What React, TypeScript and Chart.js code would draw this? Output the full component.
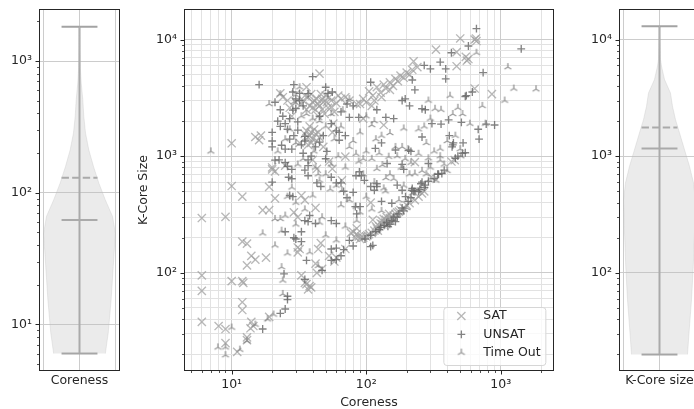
import React, { useEffect, useRef } from 'react';
import { Chart, registerables } from 'chart.js';
Chart.register(...registerables);

const FONT = '"DejaVu Sans", sans-serif';
const TEXT = '#262626';
const GRID_MAJOR = '#cccccc';
const GRID_MINOR = '#e2e2e2';
const STAT = '#a3a3a3';

// axis ranges (shared between panels)
const corenessRange = [4.5, 2440];
const coreSizeRange = [14.7, 17900];
const corenessMajors = [10, 100, 1000];
const corenessTickLabels = ['10¹', '10²', '10³'];
const coreSizeMajors = [100, 1000, 10000];
const coreSizeTickLabels = ['10²', '10³', '10⁴'];

// violin: coreness (value, half width)
const coreViolinValues = [6, 8.6, 15.3, 27.5, 49, 66, 88, 118, 158, 211, 283, 379, 507, 679, 900, 1820];
const coreViolinWidths = [0.36, 0.4, 0.44, 0.47, 0.5, 0.46, 0.36, 0.27, 0.195, 0.13, 0.084, 0.06, 0.046, 0.024, 0.011, 0];
const coreMin = 6, coreMax = 1820, coreMedian = 62, coreMean = 130;

// violin: k-core size
const sizeViolinValues = [20, 30, 59, 113, 219, 423, 589, 818, 1064, 1580, 2056, 2673, 3477, 4538, 5900, 6730, 13000];
const sizeViolinWidths = [0.39, 0.41, 0.446, 0.47, 0.487, 0.5, 0.474, 0.418, 0.362, 0.279, 0.223, 0.181, 0.153, 0.07, 0.028, 0.014, 0];
const sizeMin = 20, sizeMax = 13000, sizeMedian = 1165, sizeMean = 1760;

// scatter series: [coreness, k-core size]
const satPoints = [
  [6,295],[6,95],[6,70],[6,38],[9,302],[10,555],[10,1290],[10,85],[12,85],[12.2,82],[12,56],[12,48],[8,35],[9,33],[9,25],[11,21],
  [13,28],[13,26.5],[14,38],[14.5,35],[13.8,33.5],[19,42],[12,185],[13,178],[13,116],[14,140],[15,130],[18,135],[12,450],
  [15,1460],[16,1370],[16.5,1500],[17,345],[19,345],[19,545],[20,770],[21,435],[21,740],[20,800],
  [29,330],[31,300],[42,360],[31,165],[32,160],[31,150],[33,95],[35,82],[38,77],[39,75],[37,72],[36,80],[42,120],[43,100],
  [47,108],[46,180],[44,160],[53,140],[58,125],[60,135],[77,220],[88,205],[85,240],[83,200],
  [23,3450],[45,5100],[36,3900],[37,3200],[40,2900],[43,3100],[45,2700],[48,2900],[50,3300],[52,2600],[55,3000],[42,2500],
  [38,2700],[46,3400],[60,2850],[65,3100],[58,2400],[33,2800],[35,3300],[44,2200],[49,2300],[36,1650],[38,1500],[40,1400],
  [42,1550],[39,1300],[37,1450],[41,1700],[38,1800],[56,1600],[57,1900],[70,990],[66,620],[40,930],[43,780],[25,830],
  [33,460],[35,420],[53,900],[56,780],[75,3000],[85,2800],[95,2100],[24,3200],[27,2600],[30,3400],[70,3200],
  [39,3400],[41,3000],[44,2800],[47,3100],[51,2900],[53,3200],[47,2500],[40,2600],[34,3000],[36,2500],[55,2650],[62,3300],
  [44,1600],[39,1600],[43,1350],[37,1250],[35,1550],[45,1450],[48,1200],[32,1300],[30,2900],[26,3000],[28,2200],
  [90,2800],[95,3100],[100,2900],[105,3600],[112,3300],[115,3000],[120,3900],[128,3500],[130,3200],[135,4100],[140,3800],
  [150,4300],[150,3700],[158,4000],[165,4600],[172,4400],[180,4900],[190,4700],[200,5200],[210,5000],[220,5500],[225,6500],
  [240,5800],[135,1850],[110,2700],
  [330,8200],[470,7800],[500,10200],[640,10000],[660,9700],[655,10200],[550,7100],[575,6800],[560,6600],[470,5900],
  [640,3800],[860,3400],[455,925],[430,900],[305,665],[230,890],
  [90,195],[95,200],[100,205],[105,215],[110,220],[115,230],[120,240],[125,250],[132,260],[138,270],[140,285],[145,265],
  [150,295],[155,300],[160,310],[170,330],[180,345],[200,380],[85,215],[80,225],[230,420],[260,480],[130,280],[148,320],
  [108,400],[112,285],[70,160],
  [118,250],[128,265],[135,290],[142,300],[152,280],[122,230],[102,210],[92,205],[165,320],[175,335],[190,360],[210,395],
  [245,450],[270,500]
];

const unsatPoints = [
  [660,12400],[575,8800],[1420,8300],[430,7700],[740,5200],[390,5600],[355,6400],[300,5600],[270,6000],[390,4600],
  [545,3250],[555,3300],[615,3550],[900,1850],[780,1880],[680,1700],[690,1400],[510,1950],[410,2050],[360,1880],[308,1900],
  [415,1500],[440,1250],[445,1300],[435,1200],[525,1300],[520,1060],[545,1070],[365,710],[345,700],[275,565],[255,580],
  [218,510],[225,500],
  [220,4500],[230,3700],[195,3100],[185,3000],[210,2700],[260,2550],[275,2500],[160,2100],[140,2150],[120,2500],[108,4300],
  [117,1165],[143,865],[130,1300],[260,1460],[207,1125],[215,1100],[165,1130],[185,850],[190,770],[290,865],[260,600],
  [245,500],[170,565],[220,530],[185,510],[120,580],[115,510],
  [17,33],[23,45],[25,49],[26,59],[26,63],[24.5,98],[25,225],[29,200],[30,195],[33,185],[33,225],[38,310],[35,280],[37,275],
  [42,265],[36,128],[35,88],[47,105],[55,128],[60,130],[65,140],[55,160],[60,163],[68,158],[75,190],[60,265],[55,280],
  [83,370],[90,370],[85,320],[80,170],
  [16,4100],[40,4800],[29,4100],[28.5,3550],[32,3450],[32,3000],[37,3440],[50,3900],[56,3550],[52,3450],[21,2900],[23,2500],
  [28.5,2480],[30,2560],[25,1900],[23,1800],[27,2100],[31,1970],[31,1670],[20,1600],[20,1350],[20,1200],[23.5,1240],[27,1400],
  [28,1150],[25,1150],[34,1060],[39,1000],[37,930],[35,1480],[35,1350],[45,1320],[51,1100],[50,950],[60,1650],[63,1600],
  [63,1370],[72,2800],[80,2700],[75,2150],[88,2150],[21,925],[22.5,930],[25,880],[26,820],[28,770],[20,600],[26.5,660],
  [28,640],[28.5,450],[35,760],[37,830],[37,680],[43,590],[46,550],[55,660],[60,590],[65,590],[68,500],[80,490],[72,440],
  [84,680],[92,680],[27,460],
  [30,3100],[34,2700],[24,2200],[22,2000],[26,1700],[29,1500],[33,1250],[42,1200],[48,1500],[55,1900],[65,2400],[70,1500],[45,2200],
  [89,735],[97,620],[108,550],[130,410],[155,395],[120,550],
  [98,195],[108,210],[118,225],[128,245],[136,255],[142,270],[150,260],[155,280],[160,300],[165,275],[175,320],[185,360],
  [196,450],[205,410],[215,440],[230,500],[108,168],[112,172],
  [250,520],[270,540],[290,610],[320,640],[340,700],[380,760],[460,960],[480,1000],[125,235],[145,250],[170,300],[190,340]
];

const timeoutPoints = [
  [7,1100],[7.9,23],[9,23],[10,34],[9,19.7],[11.5,22],[13,26],[15,36],[20.5,44],[18.5,40],[24,66],[24,86],[23.5,112],[21,172],
  [17,218],[21,290],[23.5,230],[26,147],[38,150],[44,115],[45,270],[47,300],[25,310],[23,290],
  [23,3400],[32,3900],[41,1100],[34,950],[42,800],[19,2800],[60,560],[66,510],[84,1050],[95,950],[28,540],[80,1350],[26,450],
  [54,520],[30,400],
  [660,7700],[1130,5800],[1250,3800],[1830,3750],[1070,3000],[730,2700],[770,1900],[590,1900],
  [190,1730],[245,1700],[270,1800],[325,2550],[360,2500],[110,1850],[130,1500],[150,1580],[118,1400],[147,990],[165,1200],
  [185,1200],[205,1150],[245,1050],[355,1160],[355,1000],[355,920],[500,1150],[505,1000],[132,840],[182,800],[125,1060],
  [215,880],[290,960],[230,710],[135,530],[115,600],[160,640],
  [84,370],[130,340],[139,500],[145,275],[160,290],[200,360],[220,480],[240,500],
  [75,3100],[67,2480],[100,2200],[290,3000],[420,3300],[480,2600],[440,2300],[400,750],[330,620],[280,700],
  [50,700],[55,850],[62,1000],[70,800],[75,1200],[88,900],[95,700],[100,1100],[110,950],[120,780],[140,650],[150,700],
  [170,1000],[195,950],[210,700],[260,750],[300,800],[320,1100],[380,850],[100,450],[90,330],[75,420],[65,380],[110,350],
  [175,420],[190,560],[45,620],[40,460],[35,350],[30,260],[50,210],[70,250],[60,190],[85,280],[30,1300],[27,1700],[33,2200],
  [45,2000],[55,2300],[65,1800],[90,1600],[115,2000],[400,1350],[460,1500],[280,1300],[300,2100],[520,2300],
  [29,2900],[36,2300],[40,2100],[50,1800],[58,1400],[25,1400],[22,1100],[31,850],[44,700]
];

const SAT_COLOR = 'rgba(160,160,160,0.75)';
const UNSAT_COLOR = 'rgba(100,100,100,0.8)';
const TO_COLOR = 'rgba(125,125,125,0.78)';
const MARKER_LW = 1.35;

function logTicks(min: number, max: number) {
  const out: any[] = [];
  for (let e = Math.floor(Math.log10(min)); e <= Math.ceil(Math.log10(max)); e++) {
    for (let m = 1; m <= 9; m++) {
      const v = m * Math.pow(10, e);
      if (v >= min && v <= max) out.push({ value: v, major: m === 1 });
    }
  }
  return out;
}

function majorLabel(majors: number[], labels: string[]) {
  return (value: any) => {
    const i = majors.findIndex((m) => Math.abs(m - value) / m < 1e-6);
    return i >= 0 ? labels[i] : '';
  };
}

const framePlugin = {
  id: 'frame',
  afterDraw(chart: any) {
    const { ctx, chartArea: a } = chart;
    ctx.save();
    ctx.strokeStyle = TEXT;
    ctx.lineWidth = 1;
    ctx.strokeRect(Math.round(a.left) - 0.5, Math.round(a.top) - 0.5, Math.round(a.right - a.left) + 1, Math.round(a.bottom - a.top) + 1);
    ctx.restore();
  },
};

function tickMarks(axes: string[]) {
  return {
    id: 'tickMarks',
    afterDraw(chart: any) {
      const { ctx, chartArea: a } = chart;
      ctx.save();
      ctx.strokeStyle = TEXT;
      axes.forEach((id) => {
        const s = chart.scales[id];
        s.ticks.forEach((t: any) => {
          const p = s.getPixelForValue(t.value);
          const len = t.major ? 4 : 2.5;
          ctx.lineWidth = t.major ? 1 : 0.8;
          ctx.beginPath();
          if (s.axis === 'y') {
            const y = Math.round(p) + 0.5;
            ctx.moveTo(a.left - 0.5, y);
            ctx.lineTo(a.left - 0.5 - len, y);
          } else {
            const x = Math.round(p) + 0.5;
            ctx.moveTo(x, a.bottom + 0.5);
            ctx.lineTo(x, a.bottom + 0.5 + len);
          }
          ctx.stroke();
        });
      });
      ctx.restore();
    },
  };
}

function drawMarker(ctx: any, kind: any, x: number, y: number, color: string) {
  ctx.save();
  ctx.strokeStyle = color;
  ctx.lineWidth = MARKER_LW;
  ctx.beginPath();
  if (kind === 'crossRot') {
    const d = 5.8 * Math.SQRT1_2;
    ctx.moveTo(x - d, y - d); ctx.lineTo(x + d, y + d);
    ctx.moveTo(x - d, y + d); ctx.lineTo(x + d, y - d);
    ctx.stroke();
  } else if (kind === 'cross') {
    const r = 3.9;
    ctx.moveTo(x - r, y); ctx.lineTo(x + r, y);
    ctx.moveTo(x, y - r); ctx.lineTo(x, y + r);
    ctx.stroke();
  } else {
    ctx.drawImage(kind, x - kind.width / 2, y - kind.height / 2);
  }
  ctx.restore();
}

const legendPlugin = {
  id: 'boxLegend',
  afterDatasetsDraw(chart: any) {
    const { ctx, chartArea: a } = chart;
    const w = 102, h = 58;
    const x0 = a.right - 7 - w, y0 = a.bottom - 4.5 - h;
    ctx.save();
    ctx.beginPath();
    const r = 3;
    ctx.moveTo(x0 + r, y0);
    ctx.lineTo(x0 + w - r, y0); ctx.arcTo(x0 + w, y0, x0 + w, y0 + r, r);
    ctx.lineTo(x0 + w, y0 + h - r); ctx.arcTo(x0 + w, y0 + h, x0 + w - r, y0 + h, r);
    ctx.lineTo(x0 + r, y0 + h); ctx.arcTo(x0, y0 + h, x0, y0 + h - r, r);
    ctx.lineTo(x0, y0 + r); ctx.arcTo(x0, y0, x0 + r, y0, r);
    ctx.closePath();
    ctx.fillStyle = 'rgba(255,255,255,0.8)';
    ctx.fill();
    ctx.strokeStyle = '#d6d6d6';
    ctx.lineWidth = 1;
    ctx.stroke();
    chart.data.datasets.forEach((ds: any, i: number) => {
      const cy = y0 + 8.5 + i * 18.3;
      drawMarker(ctx, ds.pointStyle, x0 + 17.5, cy, ds.pointBorderColor);
      ctx.fillStyle = TEXT;
      ctx.font = '12.5px ' + FONT;
      ctx.textBaseline = 'middle';
      ctx.textAlign = 'left';
      ctx.fillText(ds.label, x0 + 39.5, cy);
    });
    ctx.restore();
  },
};

function violinPolygon(values: number[], widths: number[]) {
  const left = values.map((v, i) => ({ x: 1 - widths[i], y: v }));
  const right = values.map((v, i) => ({ x: 1 + widths[i], y: v })).reverse();
  return [...left, ...right];
}

function statLine(x0: number, x1: number, y0: number, y1: number, dash?: number[]) {
  return {
    data: [{ x: x0, y: y0 }, { x: x1, y: y1 }],
    borderColor: STAT,
    borderWidth: 2,
    borderDash: dash || [],
    pointRadius: 0,
    fill: false,
  };
}

function violinConfig(label: string, range: number[], majors: number[], labels: string[], values: number[], widths: number[], mn: number, mx: number, med: number, mean: number) {
  return {
    type: 'line',
    data: {
      datasets: [
        {
          data: violinPolygon(values, widths),
          fill: 'shape',
          backgroundColor: 'rgba(190,190,190,0.3)',
          borderColor: 'rgba(190,190,190,0.3)',
          borderWidth: 1,
          pointRadius: 0,
          tension: 0,
        },
        statLine(1, 1, mn, mx),
        statLine(0.75, 1.25, mn, mn),
        statLine(0.75, 1.25, mx, mx),
        statLine(0.75, 1.25, med, med),
        statLine(0.75, 1.25, mean, mean, [7.4, 3.2]),
      ],
    },
    options: {
      animation: false,
      responsive: false,
      events: [],
      layout: { padding: { top: 10, right: 11, left: 0, bottom: 0 } },
      plugins: { legend: { display: false }, tooltip: { enabled: false } },
      scales: {
        x: {
          type: 'linear',
          min: 0.45,
          max: 1.55,
          afterBuildTicks: (s: any) => { s.ticks = [0.5, 1, 1.5].map((v) => ({ value: v })); },
          afterFit: (s: any) => { s.height = 39; s.paddingLeft = 0; s.paddingRight = 0; },
          ticks: {
            autoSkip: false, maxRotation: 0, minRotation: 0, padding: 3,
            callback: (v: any) => (Math.abs(v - 1) < 1e-6 ? label : ''),
            font: { family: FONT, size: 12.5 }, color: TEXT,
          },
          grid: { color: GRID_MAJOR, drawTicks: false, lineWidth: 1 },
          border: { display: false },
        },
        y: {
          type: 'logarithmic',
          min: range[0],
          max: range[1],
          bounds: 'data',
          afterBuildTicks: (s: any) => { s.ticks = logTicks(range[0], range[1]); },
          afterFit: (s: any) => { s.width = 40; s.paddingTop = 0; s.paddingBottom = 0; },
          ticks: {
            autoSkip: false, padding: 8,
            callback: majorLabel(majors, labels),
            font: { family: FONT, size: 12.5 }, color: TEXT,
          },
          grid: {
            drawTicks: false,
            lineWidth: 1,
            color: (c: any) => (c.tick && c.tick.major ? GRID_MAJOR : 'rgba(0,0,0,0)'),
          },
          border: { display: false },
        },
      },
    },
    plugins: [framePlugin, tickMarks(['y'])],
  };
}

function makeTri(color: string) {
  const c = document.createElement('canvas');
  c.width = 12;
  c.height = 12;
  const g = c.getContext('2d') as CanvasRenderingContext2D;
  g.strokeStyle = color;
  g.lineWidth = MARKER_LW;
  const cx = 6, cy = 6, r = 4;
  g.beginPath();
  g.moveTo(cx, cy); g.lineTo(cx, cy - r);
  g.moveTo(cx, cy); g.lineTo(cx - r * 0.866, cy + r * 0.5);
  g.moveTo(cx, cy); g.lineTo(cx + r * 0.866, cy + r * 0.5);
  g.stroke();
  return c;
}

const toXY = (pts: number[][]) => pts.map(([x, y]) => ({ x, y }));

function scatterConfig() {
  const tri = makeTri(TO_COLOR);
  const gridColor = (c: any) => (c.tick && c.tick.major ? GRID_MAJOR : GRID_MINOR);
  return {
    type: 'scatter',
    data: {
      datasets: [
        { label: 'SAT', data: toXY(satPoints), pointStyle: 'crossRot', pointRadius: 5.8, borderColor: SAT_COLOR, pointBorderColor: SAT_COLOR, pointBackgroundColor: 'rgba(0,0,0,0)', pointBorderWidth: MARKER_LW, order: 3 },
        { label: 'UNSAT', data: toXY(unsatPoints), pointStyle: 'cross', pointRadius: 3.9, borderColor: UNSAT_COLOR, pointBorderColor: UNSAT_COLOR, pointBackgroundColor: 'rgba(0,0,0,0)', pointBorderWidth: MARKER_LW, order: 2 },
        { label: 'Time Out', data: toXY(timeoutPoints), pointStyle: tri, pointRadius: 4, borderColor: TO_COLOR, pointBorderColor: TO_COLOR, pointBackgroundColor: 'rgba(0,0,0,0)', pointBorderWidth: MARKER_LW, order: 1 },
      ],
    },
    options: {
      animation: false,
      responsive: false,
      events: [],
      layout: { padding: { top: 10, right: 5, left: 0, bottom: 0 } },
      plugins: { legend: { display: false }, tooltip: { enabled: false } },
      scales: {
        x: {
          type: 'logarithmic',
          min: corenessRange[0],
          max: corenessRange[1],
          bounds: 'data',
          afterBuildTicks: (s: any) => { s.ticks = logTicks(corenessRange[0], corenessRange[1]); },
          afterFit: (s: any) => { s.height = 39; s.paddingLeft = 0; s.paddingRight = 0; },
          ticks: {
            autoSkip: false, maxRotation: 0, minRotation: 0, padding: 7,
            callback: majorLabel(corenessMajors, corenessTickLabels),
            font: { family: FONT, size: 12.5 }, color: TEXT,
          },
          grid: { drawTicks: false, lineWidth: 1, color: gridColor },
          border: { display: false },
          title: { display: true, text: 'Coreness', color: TEXT, font: { family: FONT, size: 12.5, lineHeight: 1 }, padding: { top: 0, bottom: 0 } },
        },
        y: {
          type: 'logarithmic',
          min: coreSizeRange[0],
          max: coreSizeRange[1],
          bounds: 'data',
          afterBuildTicks: (s: any) => { s.ticks = logTicks(coreSizeRange[0], coreSizeRange[1]); },
          afterFit: (s: any) => { s.width = 55; s.paddingTop = 0; s.paddingBottom = 0; },
          ticks: {
            autoSkip: false, padding: 8,
            callback: majorLabel(coreSizeMajors, coreSizeTickLabels),
            font: { family: FONT, size: 12.5 }, color: TEXT,
          },
          grid: { drawTicks: false, lineWidth: 1, color: gridColor },
          border: { display: false },
          title: { display: true, text: 'K-Core Size', color: TEXT, font: { family: FONT, size: 12.5, lineHeight: 1 }, padding: { top: 7, bottom: 0 } },
        },
      },
    },
    plugins: [legendPlugin, framePlugin, tickMarks(['x', 'y'])],
  };
}

export default function App() {
  const leftRef = useRef<HTMLCanvasElement>(null);
  const midRef = useRef<HTMLCanvasElement>(null);
  const rightRef = useRef<HTMLCanvasElement>(null);

  useEffect(() => {
    const charts: Chart[] = [];
    if (leftRef.current) {
      charts.push(new Chart(leftRef.current, violinConfig('Coreness', corenessRange, corenessMajors, corenessTickLabels, coreViolinValues, coreViolinWidths, coreMin, coreMax, coreMedian, coreMean) as any));
    }
    if (midRef.current) {
      charts.push(new Chart(midRef.current, scatterConfig() as any));
    }
    if (rightRef.current) {
      charts.push(new Chart(rightRef.current, violinConfig('K-Core size', coreSizeRange, coreSizeMajors, coreSizeTickLabels, sizeViolinValues, sizeViolinWidths, sizeMin, sizeMax, sizeMedian, sizeMean) as any));
    }
    return () => charts.forEach((c) => c.destroy());
  }, []);

  return (
    <div style={{ position: 'fixed', left: 0, top: 0, width: 694, height: 409, overflow: 'hidden', background: '#ffffff' }}>
      <canvas ref={leftRef} width={130} height={409} style={{ position: 'absolute', left: 0, top: 0, width: 130, height: 409 }} />
      <canvas ref={midRef} width={430} height={409} style={{ position: 'absolute', left: 130, top: 0, width: 430, height: 409 }} />
      <canvas ref={rightRef} width={130} height={409} style={{ position: 'absolute', left: 580, top: 0, width: 130, height: 409 }} />
    </div>
  );
}
